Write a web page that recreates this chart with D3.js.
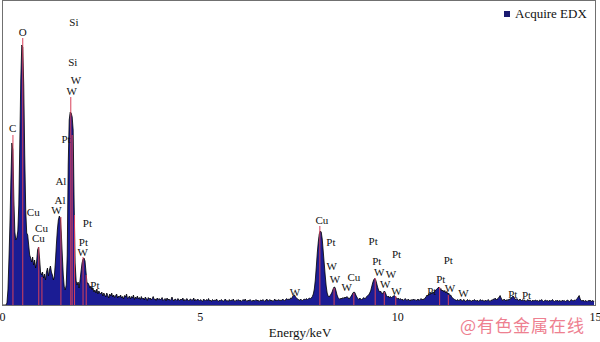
<!DOCTYPE html>
<html>
<head>
<meta charset="utf-8">
<script src="https://cdn.jsdelivr.net/npm/d3@7"></script>
<style>
body { margin: 0; background: #fff; }
</style>
</head>
<body>
<div id="chart-area"></div>
<script>
// spectrum: counts per 0.025 keV channel, 0 - 15 keV
var step = 0.025;
var counts = [
    0,0,0,0,0,20,150,450,800,1250,1620,1550,1050,730,650,670,740,1000,1600,2250,
    2600,2580,2200,1500,950,720,700,600,500,470,430,480,400,450,370,430,550,580,470,330,
    300,330,270,310,250,330,370,290,350,390,330,300,250,290,430,600,750,850,890,870,
    720,500,300,180,150,200,500,1400,1850,1930,1920,1880,1750,1000,420,240,200,230,170,250,
    340,420,460,470,440,330,220,220,200,170,190,150,170,130,150,120,160,110,140,120,
    110,130,90,120,100,80,120,95,70,110,90,120,80,100,75,95,110,70,90,80,
    100,70,85,60,95,80,110,65,75,90,60,85,70,100,55,80,65,90,60,75,
    55,85,60,70,50,80,65,45,75,60,70,50,65,85,55,60,45,70,55,65,
    50,60,75,45,55,65,40,70,50,60,45,55,80,50,40,60,55,45,65,50,
    45,60,50,70,40,55,45,65,50,40,55,60,45,50,70,40,55,45,60,50,
    40,55,45,35,60,50,40,55,45,65,40,50,35,55,45,50,40,60,45,35,
    50,40,55,45,35,50,60,40,45,35,55,40,50,45,60,40,35,50,45,55,
    40,50,35,45,55,40,60,45,35,50,40,55,45,35,50,40,45,55,40,50,
    35,45,50,40,55,45,35,50,60,40,45,55,40,50,35,45,60,40,50,45,
    55,40,50,45,60,50,40,55,65,50,60,55,70,65,85,95,100,80,70,60,
    55,45,60,50,45,55,60,50,65,55,60,70,65,70,85,110,160,250,380,520,
    630,710,740,730,660,540,420,300,190,120,90,80,95,110,130,160,180,175,140,100,
    75,65,55,70,60,75,65,80,70,85,75,60,70,85,100,120,130,125,100,80,
    65,55,70,60,50,65,75,60,70,85,95,100,120,140,180,220,250,265,255,220,
    180,150,130,140,120,110,130,140,120,95,80,90,70,85,75,80,90,95,85,70,
    60,70,55,65,50,60,45,55,65,50,45,60,50,40,55,45,60,50,55,45,
    50,60,45,55,65,50,60,55,70,80,100,90,115,105,125,110,130,120,140,150,
    160,170,180,155,165,140,150,130,145,120,135,110,120,95,100,80,70,60,55,50,
    45,55,40,50,60,45,40,55,50,35,45,55,40,50,45,35,50,40,55,45,
    40,50,35,45,55,40,50,45,35,50,40,45,55,40,35,50,45,60,55,70,
    50,60,65,80,95,70,50,45,60,50,40,55,45,60,55,70,75,90,80,60,
    55,65,50,45,60,50,40,55,45,50,35,45,55,40,50,45,35,50,40,45,
    50,40,45,35,50,45,55,40,35,45,50,40,45,35,50,40,45,55,40,35,
    45,40,50,35,45,40,35,50,40,45,35,40,50,45,35,40,55,45,40,50,
    45,55,65,80,95,60,45,40,50,35,45,40,35,45,40,50,35,40,45,30
];

// element marker lines (keV, height in counts)
var lineEnergy = [0.277, 0.525, 0.93, 1.01, 1.49, 1.74, 1.775, 1.835, 2.05, 2.13, 8.04, 8.40, 8.90, 9.44, 9.67, 9.96, 11.07, 11.29];
var lineCounts = [1700, 2670, 580, 280, 880, 2080, 1700, 900, 480, 300, 790, 170, 120, 270, 130, 90, 180, 100];

// peak labels
var labelText   = ["Si","O","Si","W","W","C","Pt","Al","Al","W","Cu","Pt","Cu","Cu","Pt","W","Pt",
                   "W","Cu","Pt","W","W","Cu","W","Pt","Pt","Pt","W","W","W","W",
                   "Pt","Pt","Pt","W","W","Pt","Pt"];
var labelEnergy = [1.82,0.524,1.79,1.87,1.76,0.271,1.62,1.49,1.47,1.38,0.79,2.16,1.00,0.92,2.06,2.04,2.35,
                   7.41,8.09,8.32,8.34,8.42,8.90,8.72,9.39,9.98,9.48,9.54,9.84,9.69,9.98,
                   11.29,11.10,10.87,11.33,11.67,12.92,13.27];
var labelCounts = [2833,2727,2433,2250,2143,1767,1657,1240,1050,950,933,817,767,667,633,533,200,
                   133,850,630,393,260,283,183,640,510,440,330,310,210,140,
                   450,260,143,173,120,110,100];

var xTicks = [0, 5, 10, 15];

var svg = d3.select("#chart-area")
    .append("svg")
        .attr("width", 600)
        .attr("height", 342);

var x = d3.scaleLinear().domain([0, 15]).range([2, 595]);
var y = d3.scaleLinear().domain([0, 3040]).range([305, 1]);

var data = counts.map(function(c, i){ return { e: i * step, c: c }; });

// Spectrum fill
var area = d3.area()
    .x(function(d){ return x(d.e); })
    .y0(y(0))
    .y1(function(d){ return y(d.c); });

svg.append("path")
    .datum(data)
    .attr("d", area)
    .attr("fill", "#1b1c94");

var line = d3.line()
    .x(function(d){ return x(d.e); })
    .y(function(d){ return y(d.c); });

svg.append("path")
    .datum(data)
    .attr("d", line)
    .attr("fill", "none")
    .attr("stroke", "#000")
    .attr("stroke-width", 0.8);

// Marker lines
svg.selectAll(".marker")
    .data(lineEnergy)
    .enter()
    .append("line")
        .attr("class", "marker")
        .attr("x1", function(d){ return x(d); })
        .attr("x2", function(d){ return x(d); })
        .attr("y1", y(0))
        .attr("y2", function(d, i){ return y(lineCounts[i]); })
        .attr("stroke", "#d8405a")
        .attr("stroke-width", 1);

// Frame
svg.append("rect")
    .attr("x", 2.5)
    .attr("y", 0.5)
    .attr("width", 593)
    .attr("height", 305)
    .attr("fill", "none")
    .attr("stroke", "#707070")
    .attr("stroke-width", 1);

// Peak labels
svg.selectAll(".lbl")
    .data(labelText)
    .enter()
    .append("text")
        .attr("class", "lbl")
        .attr("x", function(d, i){ return x(labelEnergy[i]); })
        .attr("y", function(d, i){ return y(labelCounts[i]); })
        .attr("dy", "0.35em")
        .attr("text-anchor", "middle")
        .attr("font-family", "'Liberation Serif', 'DejaVu Serif', serif")
        .attr("font-size", "11px")
        .attr("fill", "#111")
        .text(function(d){ return d; });

// X Axis
var xAxisCall = d3.axisBottom(x)
    .tickValues(xTicks)
    .tickSize(0)
    .tickPadding(7);
var xAxis = svg.append("g")
    .attr("transform", "translate(0," + 305 + ")")
    .call(xAxisCall);
xAxis.select(".domain").remove();
xAxis.selectAll("text")
    .attr("font-family", "'Liberation Serif', serif")
    .attr("font-size", "12px")
    .attr("fill", "#111");

// X Label
svg.append("text")
    .attr("x", 300)
    .attr("y", 337)
    .attr("text-anchor", "middle")
    .attr("font-family", "'Liberation Serif', serif")
    .attr("font-size", "13px")
    .attr("fill", "#111")
    .text("Energy/keV");

// Legend
svg.append("rect")
    .attr("x", 504)
    .attr("y", 11)
    .attr("width", 6)
    .attr("height", 6)
    .attr("fill", "#1a1a70");
svg.append("text")
    .attr("x", 515)
    .attr("y", 18)
    .attr("font-family", "'Liberation Serif', serif")
    .attr("font-size", "13px")
    .attr("fill", "#111")
    .text("Acquire EDX");

// Watermark
svg.append("text")
    .attr("x", 460)
    .attr("y", 332)
    .attr("font-family", "'Noto Sans CJK SC', sans-serif")
    .attr("font-size", "17px")
    .attr("letter-spacing", "1px")
    .attr("fill", "#ee8090")
    .text("@有色金属在线");
</script>
</body>
</html>
